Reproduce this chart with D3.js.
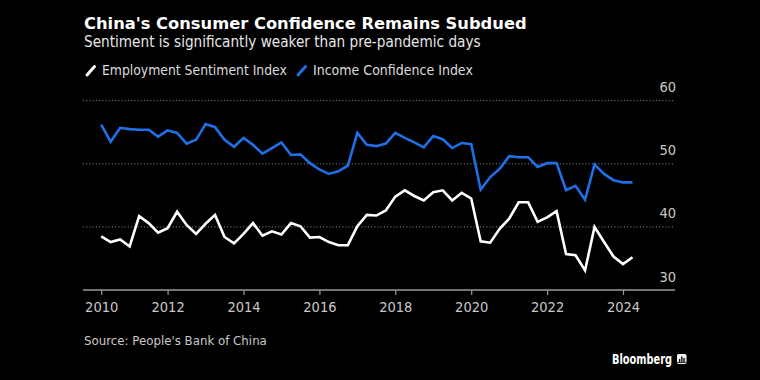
<!DOCTYPE html>
<html><head><meta charset="utf-8">
<script src="https://cdn.jsdelivr.net/npm/d3@7"></script>
<style>
html,body{margin:0;padding:0;background:#000;}
svg{display:block;}
</style></head>
<body>
<svg id="chart" width="760" height="380"></svg>
<script>
// ---- data ----
const quarters = [
 "2010Q1","2010Q2","2010Q3","2010Q4","2011Q1","2011Q2","2011Q3","2011Q4",
 "2012Q1","2012Q2","2012Q3","2012Q4","2013Q1","2013Q2","2013Q3","2013Q4",
 "2014Q1","2014Q2","2014Q3","2014Q4","2015Q1","2015Q2","2015Q3","2015Q4",
 "2016Q1","2016Q2","2016Q3","2016Q4","2017Q1","2017Q2","2017Q3","2017Q4",
 "2018Q1","2018Q2","2018Q3","2018Q4","2019Q1","2019Q2","2019Q3","2019Q4",
 "2020Q1","2020Q2","2020Q3","2020Q4","2021Q1","2021Q2","2021Q3","2021Q4",
 "2022Q1","2022Q2","2022Q3","2022Q4","2023Q1","2023Q2","2023Q3","2023Q4",
 "2024Q1"];
const employment = [38.5,37.6,38.0,36.9,41.7,40.6,39.1,39.8,42.4,40.3,38.9,40.5,41.9,38.4,37.4,
 38.9,40.6,38.6,39.3,38.8,40.6,40.1,38.3,38.4,37.6,37.1,37.1,40.1,41.9,
 41.8,42.6,44.8,45.8,44.9,44.2,45.5,45.8,44.2,45.4,44.5,37.7,37.5,39.7,
 41.3,43.9,43.9,40.8,41.5,42.5,35.7,35.5,33.1,40.0,37.6,35.3,34.1,35.2];
const income = [56.2,53.5,55.7,55.5,55.4,55.4,54.3,55.3,54.9,53.2,53.8,56.3,55.8,53.8,52.7,
 54.1,53.0,51.6,52.5,53.4,51.4,51.5,50.1,49.1,48.4,48.8,49.7,54.9,53.0,
 52.8,53.2,54.9,54.1,53.4,52.6,54.4,53.9,52.5,53.3,53.1,45.9,47.9,49.2,
 51.2,51.05,51.05,49.5,50.1,50.1,45.8,46.5,44.3,49.9,48.4,47.4,47.05,47.05];
const xTickValues = [2010.25,2012,2014,2016,2018,2020,2022,2024];
const xTickLabels = ["2010","2012","2014","2016","2018","2020","2022","2024"];
const yTicks = [30,40,50,60];
const seriesNames = ["Employment Sentiment Index","Income Confidence Index"];
const seriesColors = ["#ffffff","#1f6fe6"];
const titleText = "China's Consumer Confidence Remains Subdued";
const subtitleText = "Sentiment is significantly weaker than pre-pandemic days";
const sourceText = "Source: People's Bank of China";

// ---- helpers ----
const qTime = q => +q.slice(0,4) + (+q.slice(5))/4;
const svg = d3.select("#chart");
svg.append("rect").attr("width",760).attr("height",380).attr("fill","#000");

const x = d3.scaleLinear().domain([2012, 2024]).range([167.6, 623]);
const y = d3.scaleLinear().domain([30, 60]).range([290, 100.7]);
const xLeft = 83, xRight = 675;
const condensed = "DejaVu Sans Condensed, DejaVu Sans";

function fitText(sel, target){
  const w = sel.node().getComputedTextLength();
  const fs = parseFloat(sel.attr("font-size"));
  sel.attr("font-size", fs * target / w);
}

// ---- titles ----
const title = svg.append("text").attr("x",84).attr("y",29)
  .attr("font-family","DejaVu Sans").attr("font-weight","bold")
  .attr("font-size",17).attr("fill","#fff").text(titleText);
fitText(title, 443);
const sub = svg.append("text").attr("x",84).attr("y",47)
  .attr("font-family",condensed).attr("font-size",15)
  .attr("fill","#e6e6e6").text(subtitleText);
fitText(sub, 397);

// legend
const legendX = [86, 297];
const legendTextW = [185, 160];
seriesNames.forEach((n,i)=>{
  const g = svg.append("g");
  g.append("line").attr("x1",legendX[i]+1).attr("y1",75).attr("x2",legendX[i]+8.5).attr("y2",66.5)
    .attr("stroke",seriesColors[i]).attr("stroke-width",3).attr("stroke-linecap","round");
  const t = g.append("text").attr("x",legendX[i]+16).attr("y",75)
    .attr("font-family",condensed).attr("font-size",14)
    .attr("fill","#dcdcdc").text(n);
  fitText(t, legendTextW[i]);
});

// ---- grid ----
const grid = svg.append("g");
yTicks.filter(v=>v>30).forEach(v=>{
  grid.append("line").attr("x1",xLeft).attr("x2",xRight).attr("y1",y(v)).attr("y2",y(v))
    .attr("stroke","#7a7a7a").attr("stroke-width",1).attr("stroke-dasharray","1.2 2");
});
yTicks.forEach(v=>{
  svg.append("text").attr("x",676).attr("y",y(v)-8.5).attr("text-anchor","end")
    .attr("font-family",condensed).attr("font-size",14.5)
    .attr("fill","#c8c8c8").text(v);
});

// ---- x axis ----
const xAxis = d3.axisBottom(x).tickValues(xTickValues)
  .tickFormat((d,i)=>xTickLabels[i]).tickSize(5).tickSizeOuter(0).tickPadding(7);
const ax = svg.append("g").attr("transform",`translate(0,${y(30)})`).call(xAxis);
ax.select(".domain").remove();
ax.append("line").attr("x1",xLeft).attr("x2",xRight).attr("y1",0).attr("y2",0)
  .attr("stroke","#9a9a9a").attr("stroke-width",1.5);
ax.selectAll(".tick line").attr("stroke","#9a9a9a").attr("stroke-width",1.2);
ax.selectAll(".tick text").attr("fill","#c8c8c8")
  .attr("font-family",condensed).attr("font-size",14.5);

// ---- lines ----
const lineGen = vals => d3.line().x((d,i)=>x(qTime(quarters[i]))).y(d=>y(d))(vals);
[employment, income].forEach((vals,i)=>{
  svg.append("path").attr("d", lineGen(vals)).attr("fill","none")
    .attr("stroke",seriesColors[i]).attr("stroke-width",2.6)
    .attr("stroke-linejoin","miter").attr("stroke-linecap","butt");
});

// ---- source & logo ----
const src = svg.append("text").attr("x",84).attr("y",345)
  .attr("font-family",condensed).attr("font-size",13)
  .attr("fill","#c8c8c8").text(sourceText);
fitText(src, 183);
svg.append("text").attr("x",612).attr("y",364)
  .attr("font-family",condensed).attr("font-weight","bold").attr("font-size",14)
  .attr("textLength",60).attr("lengthAdjust","spacingAndGlyphs")
  .attr("fill","#fff").text("Bloomberg");
const logo = svg.append("g").attr("transform","translate(677,354)");
logo.append("rect").attr("width",9.5).attr("height",10).attr("rx",1.5).attr("fill","#f0f0f0");
[[2,5,1.3],[4.2,2.5,1.3],[6.4,4,1.3]].forEach(b=>{
  logo.append("rect").attr("x",b[0]).attr("y",b[1]).attr("width",b[2]).attr("height",7-b[1]+1).attr("fill","#000");
});
logo.append("rect").attr("x",0).attr("y",8).attr("width",9.5).attr("height",0.8).attr("fill","#000");
</script>
</body></html>
